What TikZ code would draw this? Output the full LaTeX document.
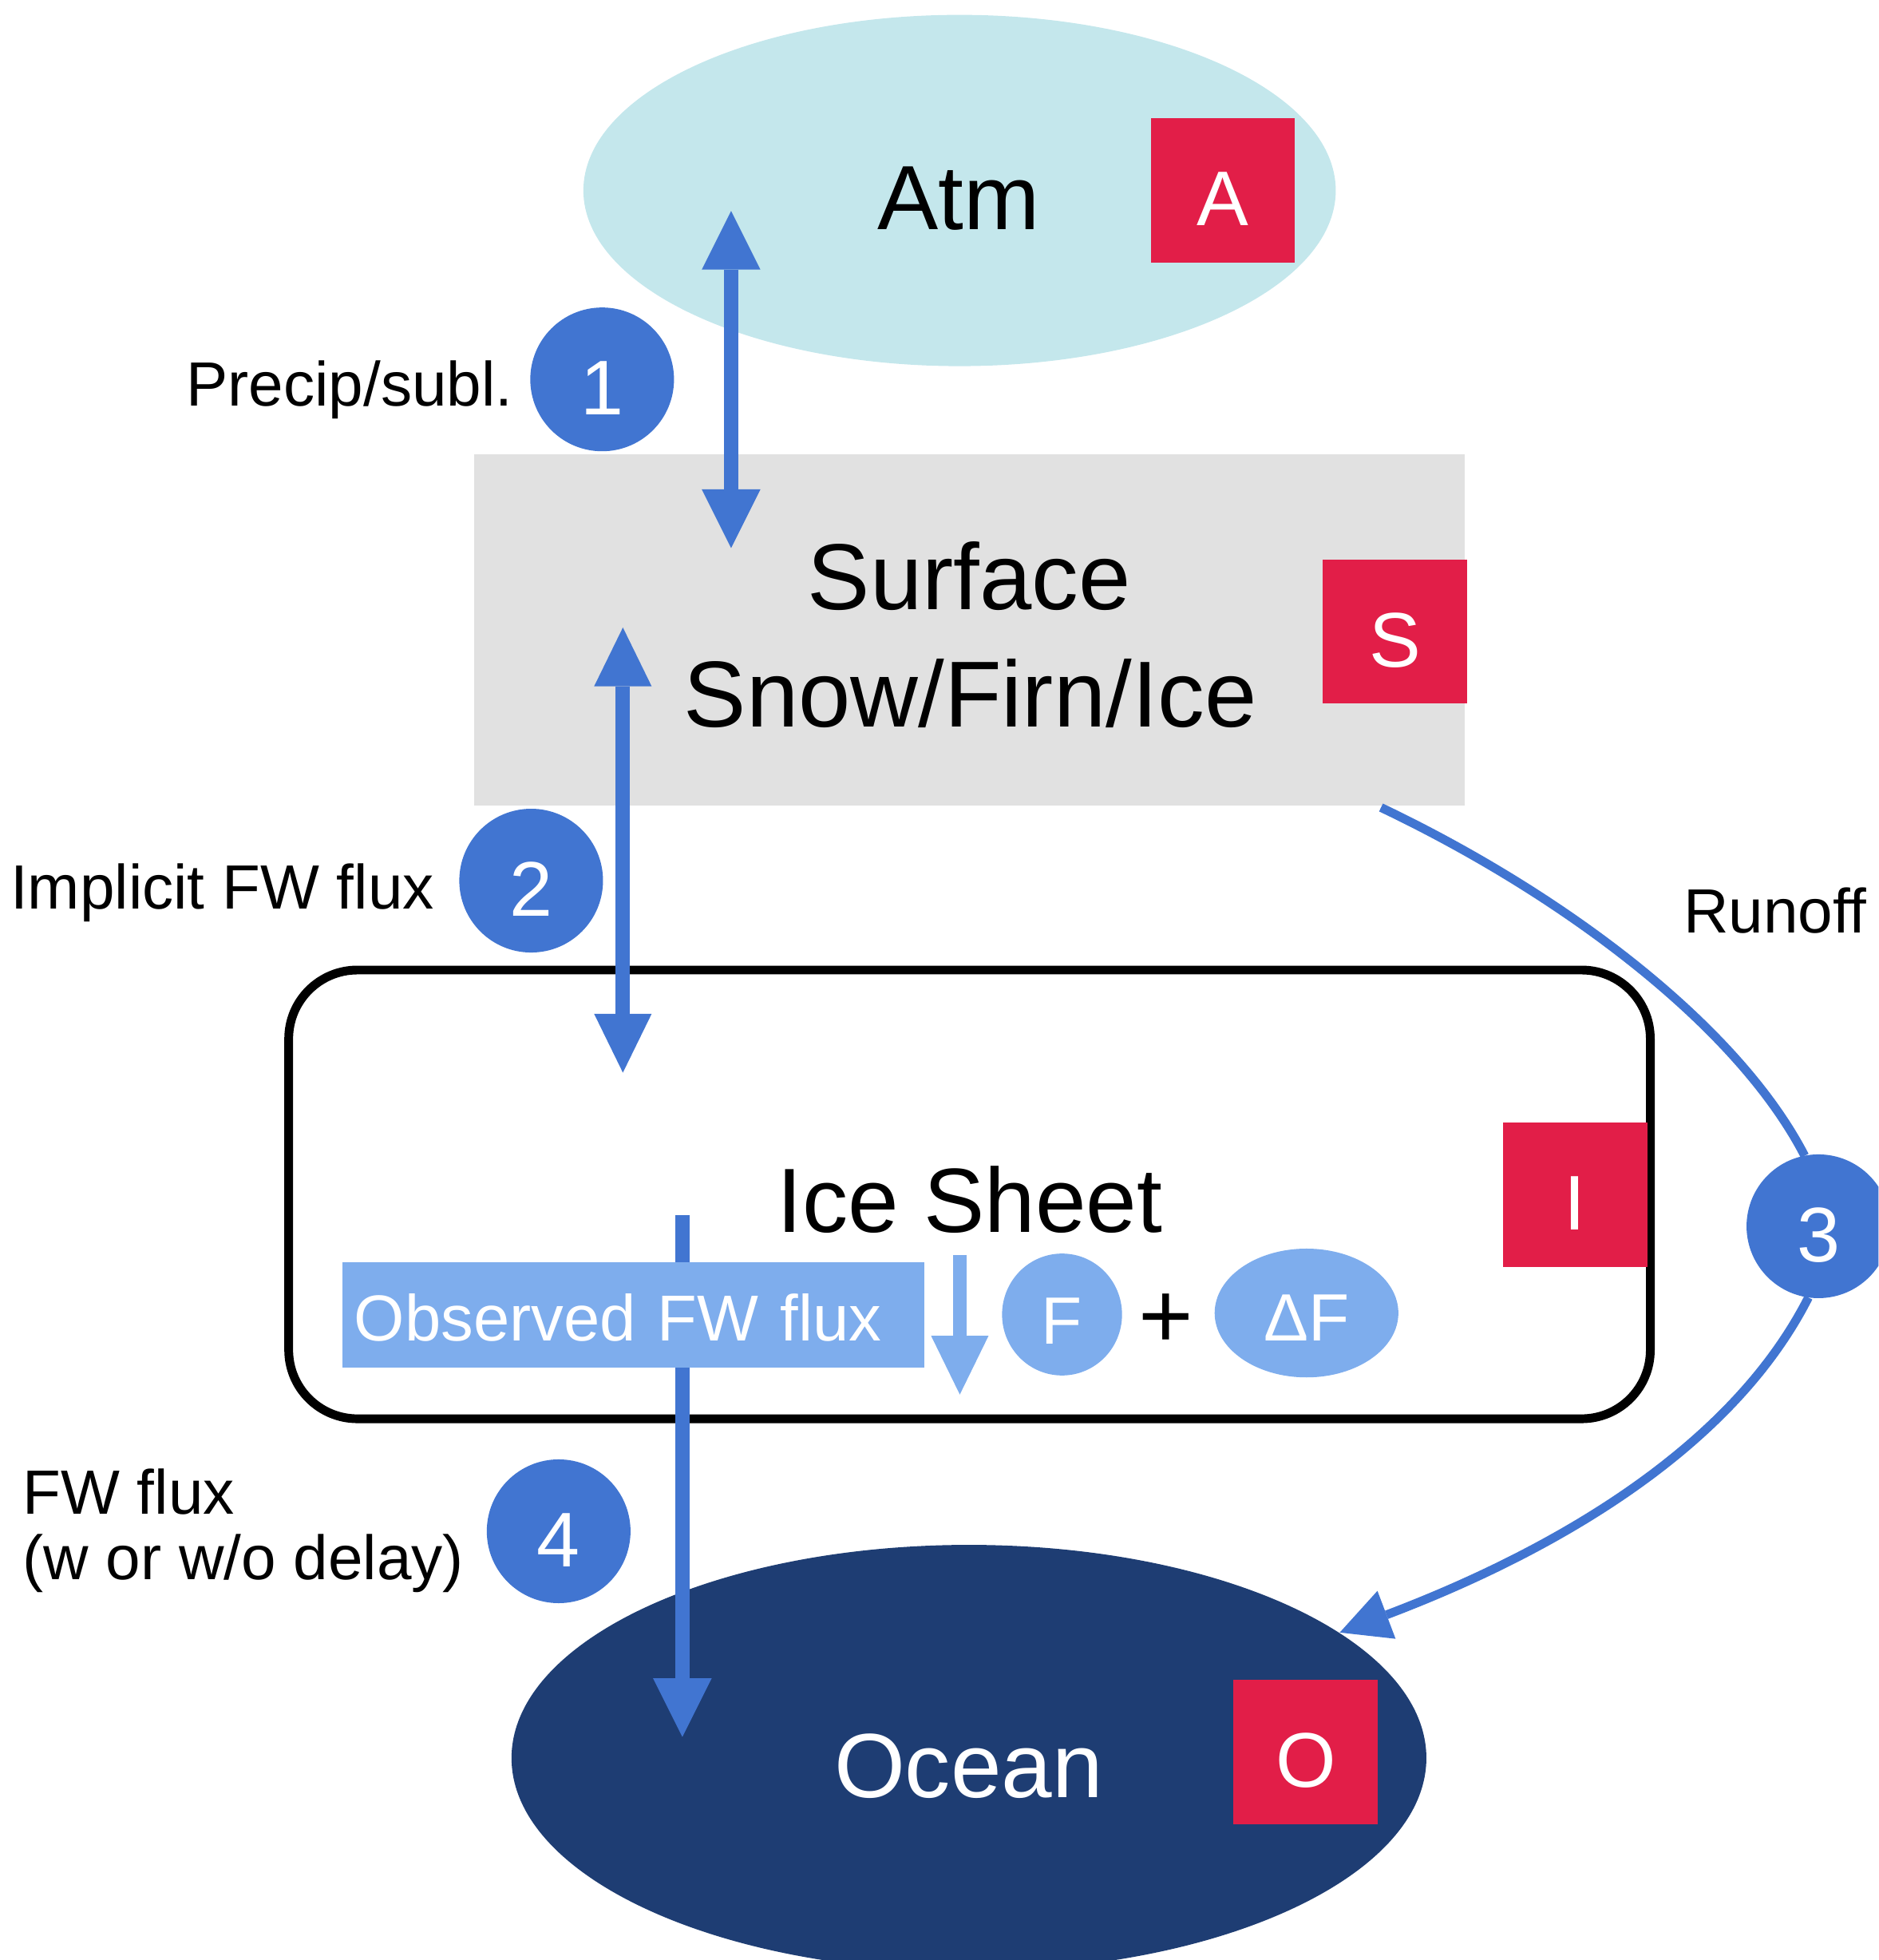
\documentclass[tikz,border=0pt]{standalone}
\usepackage{fontspec}
\setmainfont{Liberation Sans}
\usetikzlibrary{shapes.geometric,arrows.meta}
\definecolor{atmblue}{HTML}{C4E7EC}
\definecolor{surfgray}{HTML}{E1E1E1}
\definecolor{tagred}{HTML}{E21E48}
\definecolor{flowblue}{HTML}{4175D1}
\definecolor{lightflow}{HTML}{7EADED}
\definecolor{oceannavy}{HTML}{1E3D73}
\newcommand{\bigfnt}{\fontsize{73}{80}\selectfont}
\newcommand{\surffnt}{\fontsize{75}{80}\selectfont}
\newcommand{\tagfnt}{\fontsize{62}{66}\selectfont}
\newcommand{\labfnt}{\fontsize{50}{53}\selectfont}
\newcommand{\midfnt}{\fontsize{53.5}{58}\selectfont}
\newcommand{\obsfnt}{\fontsize{52}{56}\selectfont}
\tikzset{
  bigtext/.style={inner sep=0pt, font=\bigfnt},
  labeltext/.style={inner sep=0pt, font=\labfnt, anchor=base west},
  tagbox/.style={rectangle, fill=tagred, minimum size=115.5pt, inner sep=0pt,
    text=white, font=\tagfnt, text height=56.4pt, text depth=0pt},
  numcirc/.style={circle, fill=flowblue, minimum size=115pt, inner sep=0pt,
    text=white, font=\tagfnt, text height=56.4pt, text depth=0pt},
  lightblob/.style={ellipse, fill=lightflow, inner sep=0pt, text=white, font=\midfnt},
  flow/.style={draw=flowblue, line width=11.5pt},
  lightarrow/.style={draw=lightflow, line width=10.5pt,
    -{Triangle[length=47pt,width=46pt,line width=0pt]}},
  runoffline/.style={draw=flowblue, line width=7pt},
}
\begin{document}
\begin{tikzpicture}[x=1pt,y=-1pt]
\useasboundingbox (0,0) rectangle (1503,1568);
\clip (0,0) rectangle (1503,1568);

% compartments
\node[ellipse, fill=atmblue, minimum width=602pt, minimum height=281pt, inner sep=0pt] (atm) at (767.8,152.4) {};
\node[bigtext, anchor=base] (atmtext) at (767,183.7) {Atm};

\node[rectangle, fill=surfgray, minimum width=792.4pt, minimum height=281pt, inner sep=0pt] (surf) at (775.5,504.2) {};
\node[bigtext, font=\surffnt, anchor=base] (surftexta) at (775.5,487.8) {Surface};
\node[bigtext, font=\surffnt, anchor=base] (surftextb) at (776.5,581.5) {Snow/Firn/Ice};

\node[draw=black, line width=7pt, rounded corners=55pt, minimum width=1089.5pt, minimum height=359pt, inner sep=0pt] (ice) at (775.75,955.5) {};
\node[bigtext, anchor=base] (icetext) at (776,985.6) {Ice Sheet};

\node[ellipse, fill=oceannavy, minimum width=732pt, minimum height=341pt, inner sep=0pt] (ocean) at (775.3,1406.4) {};
\node[bigtext, anchor=base, text=white] (oceantext) at (775,1437.7) {Ocean};

% tags
\node[tagbox] (tagA) at (978.5,152.2) {A};
\node[tagbox] (tagS) at (1116.3,505.2) {S};
\node[tagbox] (tagI) at (1260.2,955.7) {I};
\node[tagbox] (tagO) at (1044.8,1401.7) {O};

% arrow end points
\coordinate (f1top) at (585,168.7);
\coordinate (f1bot) at (585,438.4);
\coordinate (f2top) at (498.4,502);
\coordinate (f2bot) at (498.4,858.1);
\coordinate (f4top) at (546,972);
\coordinate (f4bot) at (546,1389.6);
\coordinate (obstop) at (768,1004);
\coordinate (obsbot) at (768,1115.6);
\coordinate (runstart) at (1105,646);
\coordinate (runend) at (1072,1306);
\coordinate (runin) at (1444,924.6);
\coordinate (runout) at (1447,1038);

% numbered circles
\node[numcirc] (c1) at (481.8,303.5) {1};
\node[numcirc] (c2) at (425,704.5) {2};
\node[numcirc] (c4) at (447,1225) {4};

% fluxes
\draw[flow, {Triangle[length=47pt,width=47pt,line width=0pt]}-{Triangle[length=47pt,width=47pt,line width=0pt]}] (f1top) -- (f1bot);
\draw[flow, {Triangle[length=47pt,width=46pt,line width=0pt]}-{Triangle[length=47pt,width=46pt,line width=0pt]}] (f2top) -- (f2bot);
\draw[flow, -{Triangle[length=47pt,width=47pt,line width=0pt]}] (f4top) -- (f4bot);

\draw[runoffline] (runstart) .. controls (1250,715) and (1390,820) .. (runin);
\draw[runoffline, -{Triangle[length=40pt,width=41pt,line width=0pt]}] (runout) .. controls (1380,1170) and (1220,1250) .. (runend);
\node[numcirc] (c3) at (1455,981) {3};

% observed flux
\node[rectangle, fill=lightflow, minimum height=84pt, text width=446.5pt, inner xsep=9.5pt, inner ysep=0pt,
  align=left, text=white, font=\obsfnt, text height=41pt, text depth=0pt] (obs) at (506.7,1052) {Observed FW flux};
\draw[lightarrow] (obstop) -- (obsbot);
\node[lightblob, minimum width=96pt, minimum height=97.5pt, text height=47pt, text depth=0pt] (fnode) at (849.8,1051.6) {F};
\node[inner sep=0pt, font=\fontsize{75}{80}\selectfont] (plus) at (932.7,1057) {+};
\node[lightblob, minimum width=147pt, minimum height=103pt, text height=45pt, text depth=0pt] (dfnode) at (1045.4,1050.4) {ΔF};

% labels
\node[labeltext] (lab1) at (149,325) {Precip/subl.};
\node[labeltext] (lab2) at (8.2,727) {Implicit FW flux};
\node[labeltext] (lab3) at (1347,746) {Runoff};
\node[labeltext] (lab4a) at (18,1211) {FW flux};
\node[labeltext] (lab4b) at (18,1263.5) {(w or w/o delay)};
\end{tikzpicture}
\end{document}
